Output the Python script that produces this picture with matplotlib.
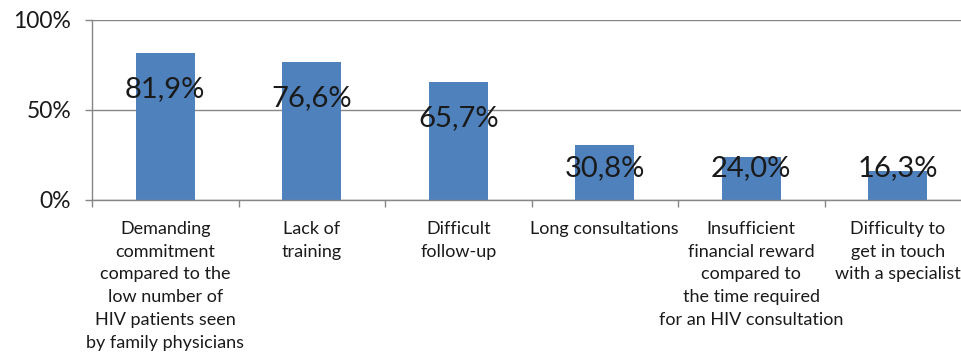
import matplotlib
matplotlib.use("Agg")
import matplotlib.pyplot as plt
import numpy as np

plt.rcParams["font.family"] = ["Lato", "DejaVu Sans"]

categories = [
    "Demanding\ncommitment\ncompared to the\nlow number of\nHIV patients seen\nby family physicians",
    "Lack of\ntraining",
    "Difficult\nfollow-up",
    "Long consultations",
    "Insufficient\nfinancial reward\ncompared to\nthe time required\nfor an HIV consultation",
    "Difficulty to\nget in touch\nwith a specialist",
]
values = [81.9, 76.6, 65.7, 30.8, 24.0, 16.3]
value_labels = ["81,9%", "76,6%", "65,7%", "30,8%", "24,0%", "16,3%"]
yticks = [0, 50, 100]
ytick_labels = ["0%", "50%", "100%"]

BAR = "#4F81BD"
AX = "#868686"

fig = plt.figure(figsize=(9.61, 3.61), dpi=100)
ax = fig.add_axes([92 / 961, 161 / 361, 879 / 961, 180 / 361])

x = np.arange(len(values))
ax.bar(x, values, width=0.4, color=BAR, zorder=2)
for xi, v, s in zip(x, values, value_labels):
    # data label sits ~20 points under the bar top, never lower than 18
    ax.text(xi, max(v - 20, 18), s, ha="center", va="center", fontsize=21,
            color="#1a1a1a", zorder=3)

ax.set_xlim(-0.5, len(values) - 0.5)
ax.set_ylim(0, 100)
ax.set_yticks(yticks)
ax.set_yticklabels(ytick_labels, fontsize=16.5, color="#1a1a1a")
ax.yaxis.grid(True, color=AX, lw=1, zorder=0)
ax.tick_params(axis="y", length=5, width=1, color=AX, pad=10)

ax.set_xticks(np.arange(-0.5, len(values)), minor=False)
ax.set_xticklabels([])
ax.tick_params(axis="x", which="major", length=5, width=1, color=AX)
ax.set_xticks(x, minor=True)
ax.set_xticklabels(categories, minor=True, fontsize=13, color="#1a1a1a",
                   linespacing=1.52)
ax.tick_params(axis="x", which="minor", length=0, pad=15)

for side in ("top", "right"):
    ax.spines[side].set_visible(False)
for side in ("left", "bottom"):
    ax.spines[side].set_color(AX)
    ax.spines[side].set_linewidth(1)

fig.savefig("out.png", dpi=100)
